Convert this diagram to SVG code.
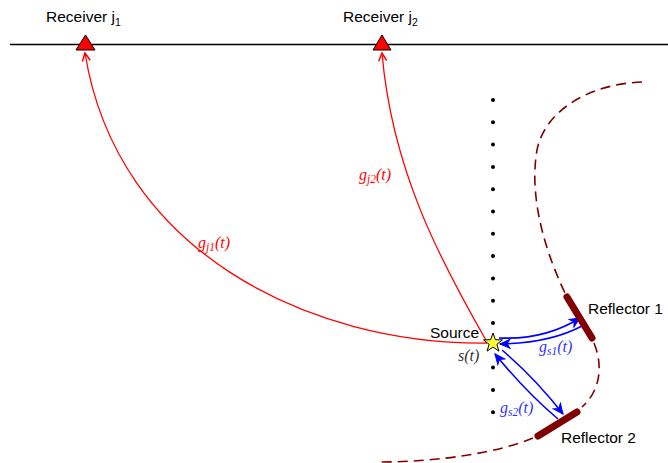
<svg xmlns="http://www.w3.org/2000/svg" width="668" height="463" viewBox="0 0 668 463">
<style>
.lbl{font-family:"Liberation Sans",Arial,sans-serif;font-size:15.5px;fill:#000}
.it{font-family:"Liberation Serif","Times New Roman",serif;font-style:italic;font-size:16px}
.red{fill:#FF0000}
.blue{fill:#3333FF}
.ray{fill:none;stroke:#FF0000;stroke-width:1.3}
.bl{fill:none;stroke:#0000FF;stroke-width:1.6}
.dash{fill:none;stroke:#800000;stroke-width:1.6;stroke-dasharray:10 6}
.refl{fill:none;stroke:#800000;stroke-width:7;stroke-linecap:round}
.tri{fill:#FF0000;stroke:#000;stroke-width:1}
</style>
<defs>
<marker id="ra" markerUnits="userSpaceOnUse" markerWidth="12" markerHeight="12" refX="9" refY="5" orient="auto">
<path d="M1,1 L9,5 L1,9" fill="none" stroke="#FF0000" stroke-width="1.5"/>
</marker>
<marker id="ba" markerUnits="userSpaceOnUse" markerWidth="14" markerHeight="14" refX="11" refY="6" orient="auto">
<path d="M1,1.5 L11,6 L1,10.5 L4,6 Z" fill="#0000FF" stroke="#0000FF" stroke-width="1"/>
</marker>
</defs>
<line x1="10" y1="44.5" x2="668" y2="44.5" stroke="#000" stroke-width="1.3"/>
<g id="receiver1">
<polygon class="tri" points="85.5,35 76,50 95,50"/>
<text class="lbl" x="46" y="22">Receiver j<tspan font-size="10.5" dy="4">1</tspan></text>
</g>
<g id="receiver2">
<polygon class="tri" points="382,35 373,50 391,50"/>
<text class="lbl" x="343" y="22">Receiver j<tspan font-size="10.5" dy="4">2</tspan></text>
</g>
<g id="connectors">
<path class="ray" d="M487,343 C310,345 117,252 85,53" marker-end="url(#ra)"/>
<path class="ray" d="M487,342 C440,260 392,170 382,53" marker-end="url(#ra)"/>
<path class="bl" d="M499,338 Q545,340 580,318" marker-end="url(#ba)"/>
<path class="bl" d="M582,326 Q550,343 500,344" marker-end="url(#ba)"/>
<path class="bl" d="M502,350 Q535,378 563,414" marker-end="url(#ba)"/>
<path class="bl" d="M558,419 Q526,392 495,354" marker-end="url(#ba)"/>
</g>
<g id="dots" fill="#000">
<circle cx="493" cy="100" r="2"/><circle cx="493" cy="122.3" r="2"/><circle cx="493" cy="144.6" r="2"/>
<circle cx="493" cy="166.9" r="2"/><circle cx="493" cy="189.2" r="2"/><circle cx="493" cy="211.5" r="2"/>
<circle cx="493" cy="233.8" r="2"/><circle cx="493" cy="256.1" r="2"/><circle cx="493" cy="278.4" r="2"/>
<circle cx="493" cy="300.7" r="2"/><circle cx="493" cy="323" r="2"/>
<circle cx="493" cy="367.6" r="2"/><circle cx="493" cy="389.9" r="2"/><circle cx="493" cy="412.2" r="2"/>
</g>
<g id="interface">
<path class="dash" d="M642,82 C590,84 545,110 537,150 C530,190 540,240 565,293"/>
<path class="dash" d="M594,343 C603,365 601,390 582,407"/>
<path class="dash" d="M533,438 C500,452 440,462 380,462"/>
</g>
<g id="reflector1">
<line class="refl" x1="567" y1="297" x2="592" y2="338"/>
<text class="lbl" x="588" y="314">Reflector 1</text>
</g>
<g id="reflector2">
<line class="refl" x1="577" y1="412" x2="538" y2="436"/>
<text class="lbl" x="561" y="443">Reflector 2</text>
</g>
<g id="source">
<polygon points="493,333 495.4,339.7 502.5,339.9 496.9,344.3 498.9,351.1 493,347.1 487.1,351.1 489.1,344.3 483.5,339.9 490.6,339.7" fill="#FFFF33" stroke="#000" stroke-width="1"/>
<text class="lbl" x="430" y="338">Source</text>
<text class="it" x="458" y="361" fill="#333">s(t)</text>
</g>
<text class="it red" x="198" y="248">g<tspan font-size="11.5" dy="3">j1</tspan><tspan dy="-3">(t)</tspan></text>
<text class="it red" x="359" y="180">g<tspan font-size="11.5" dy="3">j2</tspan><tspan dy="-3">(t)</tspan></text>
<text class="it blue" x="539" y="352">g<tspan font-size="11.5" dy="3">s1</tspan><tspan dy="-3">(t)</tspan></text>
<text class="it blue" x="500" y="413">g<tspan font-size="11.5" dy="3">s2</tspan><tspan dy="-3">(t)</tspan></text>
</svg>
